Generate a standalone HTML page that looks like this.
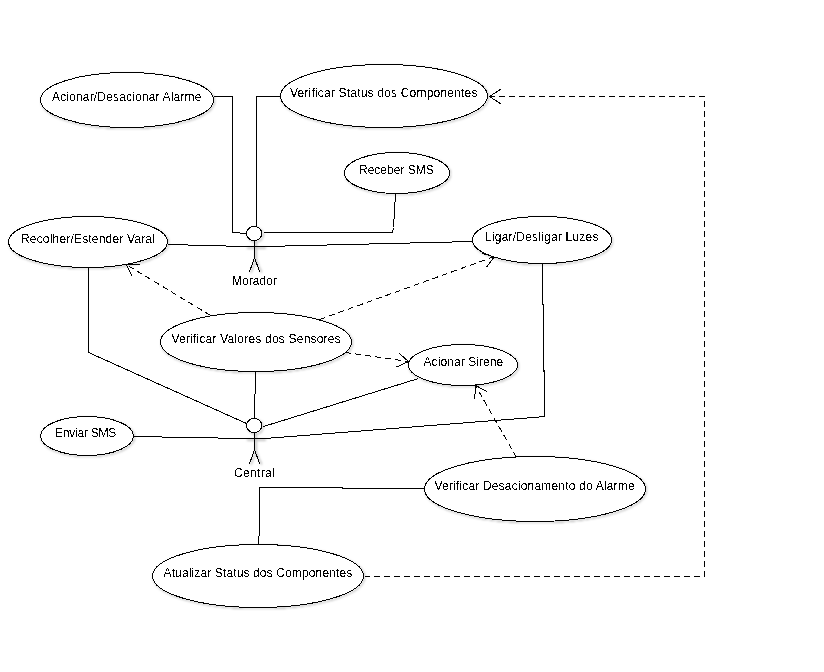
<!DOCTYPE html>
<html><head><meta charset="utf-8"><style>
html,body{margin:0;padding:0;background:#fff;width:824px;height:672px;overflow:hidden}
svg{display:block}
path,ellipse,circle{shape-rendering:crispEdges}
text{font-family:"Liberation Sans",sans-serif;font-size:12px;fill:#000;}
</style></head><body>
<svg width="824" height="672" viewBox="0 0 824 672">
<defs><filter id="crisp" filterUnits="userSpaceOnUse" x="0" y="0" width="824" height="672"><feComponentTransfer><feFuncA type="discrete" tableValues="0 1"/></feComponentTransfer></filter><filter id="sh" x="-10%" y="-10%" width="120%" height="130%"><feGaussianBlur stdDeviation="0.8"/></filter></defs>
<rect width="824" height="672" fill="#fff"/>
<g fill="none" stroke="#c4c4c4" stroke-width="1.6" filter="url(#sh)">
<ellipse cx="128" cy="101.2" rx="86.5" ry="27.5"/>
<ellipse cx="385" cy="97.2" rx="103.5" ry="31.5"/>
<ellipse cx="398" cy="174.2" rx="52.5" ry="20.5"/>
<ellipse cx="89" cy="243.2" rx="79.5" ry="25.5"/>
<ellipse cx="543" cy="241.2" rx="69.5" ry="23.5"/>
<ellipse cx="257" cy="343.2" rx="95.5" ry="29.5"/>
<ellipse cx="464" cy="366.2" rx="54.5" ry="20.5"/>
<ellipse cx="88" cy="437.2" rx="46.5" ry="19.5"/>
<ellipse cx="536" cy="490.2" rx="110.5" ry="32.5"/>
<ellipse cx="259" cy="577.2" rx="105.5" ry="31.5"/>
<path d="M246.5,248 H265.5 M256,242 V259.25 L251,273 M256,259.25 L261.7,273"/>
<ellipse cx="255.6" cy="235" rx="7.6" ry="7.1"/>
<path d="M246.5,440 H265.5 M256,434 V451.25 L251,465 M256,451.25 L261.7,465"/>
<ellipse cx="255.6" cy="427" rx="7.6" ry="7.1"/>
</g>
<g fill="none" stroke="#000" stroke-width="1">
<path d="M213.5,96.5 L232.5,96.5 L232.5,232.5 L246.5,233.5"/>
<path d="M280.5,96.5 L256.5,96.5 L256.5,226.5"/>
<path d="M395.5,193.5 L393.5,227.5 L392.5,232.5 L263.5,232.5"/>
<path d="M168.5,244.5 L254.5,246.76"/>
<path d="M254.5,246.74 L472.5,241.52"/>
<path d="M88.5,267.5 L88.5,352.5 L246.5,423.5"/>
<path d="M255.5,371.5 L254.5,418.5"/>
<path d="M418.5,378.5 L263.5,426.5"/>
<path d="M542.4,263.5 L544.7,416.59 L262.5,438.7"/>
<path d="M133.5,436.51 L254.5,438.67"/>
<path d="M424.5,488.5 L259.5,487.5 L259.5,528.5 L258.5,544.5"/>
</g>
<g fill="none" stroke="#000" stroke-width="1" stroke-dasharray="6 4">
<path d="M489,96.5 L704.5,96.5 L704.5,576.5 L364.5,576.5"/>
<path d="M210.5,315.5 L126.5,264.7"/>
<path d="M319.5,319.5 L494.5,256.5"/>
<path d="M345.5,352.5 L408.5,361.5"/>
<path d="M516.5,457.5 L475.5,385.5"/>
</g>
<g fill="none" stroke="#000" stroke-width="1">
<path d="M500.57,103.69 L489.5,96.5 L500.57,89.31"/>
<path d="M132.25,276.58 L126.5,264.7 L139.69,264.28"/>
<path d="M481.65,253.49 L494.5,256.5 L486.52,267.01"/>
<path d="M398.56,352.82 L408.5,361.5 L396.52,367.05"/>
<path d="M474.73,398.68 L475.5,385.5 L487.23,391.56"/>
</g>
<g fill="#fff" stroke="#000" stroke-width="1">
<ellipse cx="127" cy="100" rx="86.5" ry="27.5"/>
<ellipse cx="384" cy="96" rx="103.5" ry="31.5"/>
<ellipse cx="397" cy="173" rx="52.5" ry="20.5"/>
<ellipse cx="88" cy="242" rx="79.5" ry="25.5"/>
<ellipse cx="542" cy="240" rx="69.5" ry="23.5"/>
<ellipse cx="256" cy="342" rx="95.5" ry="29.5"/>
<ellipse cx="463" cy="365" rx="54.5" ry="20.5"/>
<ellipse cx="87" cy="436" rx="46.5" ry="19.5"/>
<ellipse cx="535" cy="489" rx="110.5" ry="32.5"/>
<ellipse cx="258" cy="576" rx="105.5" ry="31.5"/>
</g>
<g fill="none" stroke="#000" stroke-width="1">
<path d="M245,246.5 H264 M254.5,240.5 V257.75 M254.5,257.75 L249.3,272.3 M254.5,257.75 L259.9,272.3"/>
<ellipse cx="254.1" cy="233.5" rx="7.6" ry="7.1" fill="#fff"/>
<path d="M245,438.5 H264 M254.5,432.5 V449.75 M254.5,449.75 L249.3,464.3 M254.5,449.75 L259.9,464.3"/>
<ellipse cx="254.1" cy="425.5" rx="7.6" ry="7.1" fill="#fff"/>
</g>
<g filter="url(#crisp)">
<text x="52" y="101" textLength="149.41" lengthAdjust="spacing">Acionar/Desacionar Alarme</text>
<text x="290" y="97" textLength="187.44" lengthAdjust="spacing">Verificar Status dos Componentes</text>
<text x="359" y="174" textLength="74.70" lengthAdjust="spacing">Receber SMS</text>
<text x="21" y="243" textLength="133.84" lengthAdjust="spacing">Recolher/Estender Varal</text>
<text x="485" y="241" textLength="113.39" lengthAdjust="spacing">Ligar/Desligar Luzes</text>
<text x="171.5" y="343" textLength="169.20" lengthAdjust="spacing">Verificar Valores dos Sensores</text>
<text x="423.5" y="366" textLength="79.72" lengthAdjust="spacing">Acionar Sirene</text>
<text x="55" y="437" textLength="61.36" lengthAdjust="spacing">Enviar SMS</text>
<text x="434.5" y="490" textLength="200.11" lengthAdjust="spacing">Verificar Desacionamento do Alarme</text>
<text x="163.5" y="577" textLength="188.78" lengthAdjust="spacing">Atualizar Status dos Componentes</text>
<text x="232" y="285" textLength="44.69" lengthAdjust="spacing">Morador</text>
<text x="234" y="477" textLength="40.69" lengthAdjust="spacing">Central</text>
</g>
</svg>
</body></html>
